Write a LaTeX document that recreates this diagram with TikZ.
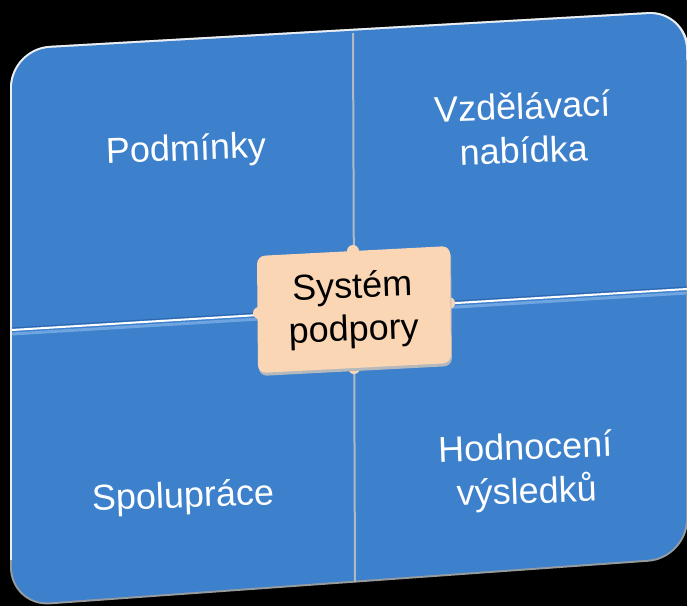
\documentclass[tikz,border=0pt]{standalone}
\usepackage{fontspec}
\setmainfont{Liberation Sans}
\definecolor{qblue}{RGB}{61,128,204}
\definecolor{qlight}{RGB}{110,165,225}
\definecolor{qdark}{RGB}{45,100,170}
\definecolor{peach}{RGB}{251,214,181}
\definecolor{rimlight}{RGB}{235,238,242}
\definecolor{rimdark}{RGB}{150,155,160}
\definecolor{divgray}{RGB}{175,185,195}
\tikzset{
  quadtext/.style={text=white, align=center, font=\fontsize{36}{44}\selectfont, rotate=2, inner sep=0pt},
  centertext/.style={text=black, align=center, font=\fontsize{36}{43}\selectfont, rotate=2, inner sep=0pt},
}
\begin{document}
\begin{tikzpicture}[x=1pt,y=-1pt]
\fill[black] (0,0) rectangle (687,606);
\useasboundingbox (0,0) rectangle (687,606);
\coordinate (TL) at (12,50);
\coordinate (T) at (353,33);
\coordinate (TR) at (686,12);
\coordinate (R) at (687,289);
\coordinate (BR) at (686,557);
\coordinate (B) at (355,582);
\coordinate (BL) at (12,605);
\coordinate (L) at (12,330);
% outer rim
\draw[rimdark, line width=4pt, rounded corners=38pt] (L) -- (TL) -- (TR) -- (BR) -- (BL) -- cycle;
\draw[rimlight, line width=4pt, rounded corners=38pt] (12,560) -- (L) -- (TL) -- (TR) -- (687,60);
% blue body
\fill[qblue, rounded corners=38pt] (L) -- (TL) -- (TR) -- (BR) -- (BL) -- cycle;
% dividers
\draw[qdark, line width=1pt] (12,328) -- (687,287);
\draw[qlight, line width=3pt] (12,334) -- (687,293);
\draw[white, line width=2pt] (L) -- (R);
\draw[divgray, line width=2pt] (T) -- (B);
% center box bumps
\fill[peach] (353,251) circle (6pt);
\fill[peach] (354,368) circle (6pt);
\fill[peach] (259,313) circle (6pt);
\fill[peach] (449,303) circle (6pt);
% center box
\fill[rimdark!70, rounded corners=8pt] (258,259) -- (451,249) -- (452,366) -- (259,376) -- cycle;
\fill[peach, rounded corners=8pt] (257,256) -- (450,246) -- (451,363) -- (258,373) -- cycle;
% texts
\node[quadtext] (q1) at (186,151) {Podmínky};
\node[quadtext] (q2) at (523,128) {Vzdělávací\\nabídka};
\node[quadtext] (q3) at (183,498) {Spolupráce};
\node[quadtext] (q4) at (526,472) {Hodnocení\\výsledků};
\node[centertext] (c) at (353,310) {Systém\\podpory};
\end{tikzpicture}
\end{document}
